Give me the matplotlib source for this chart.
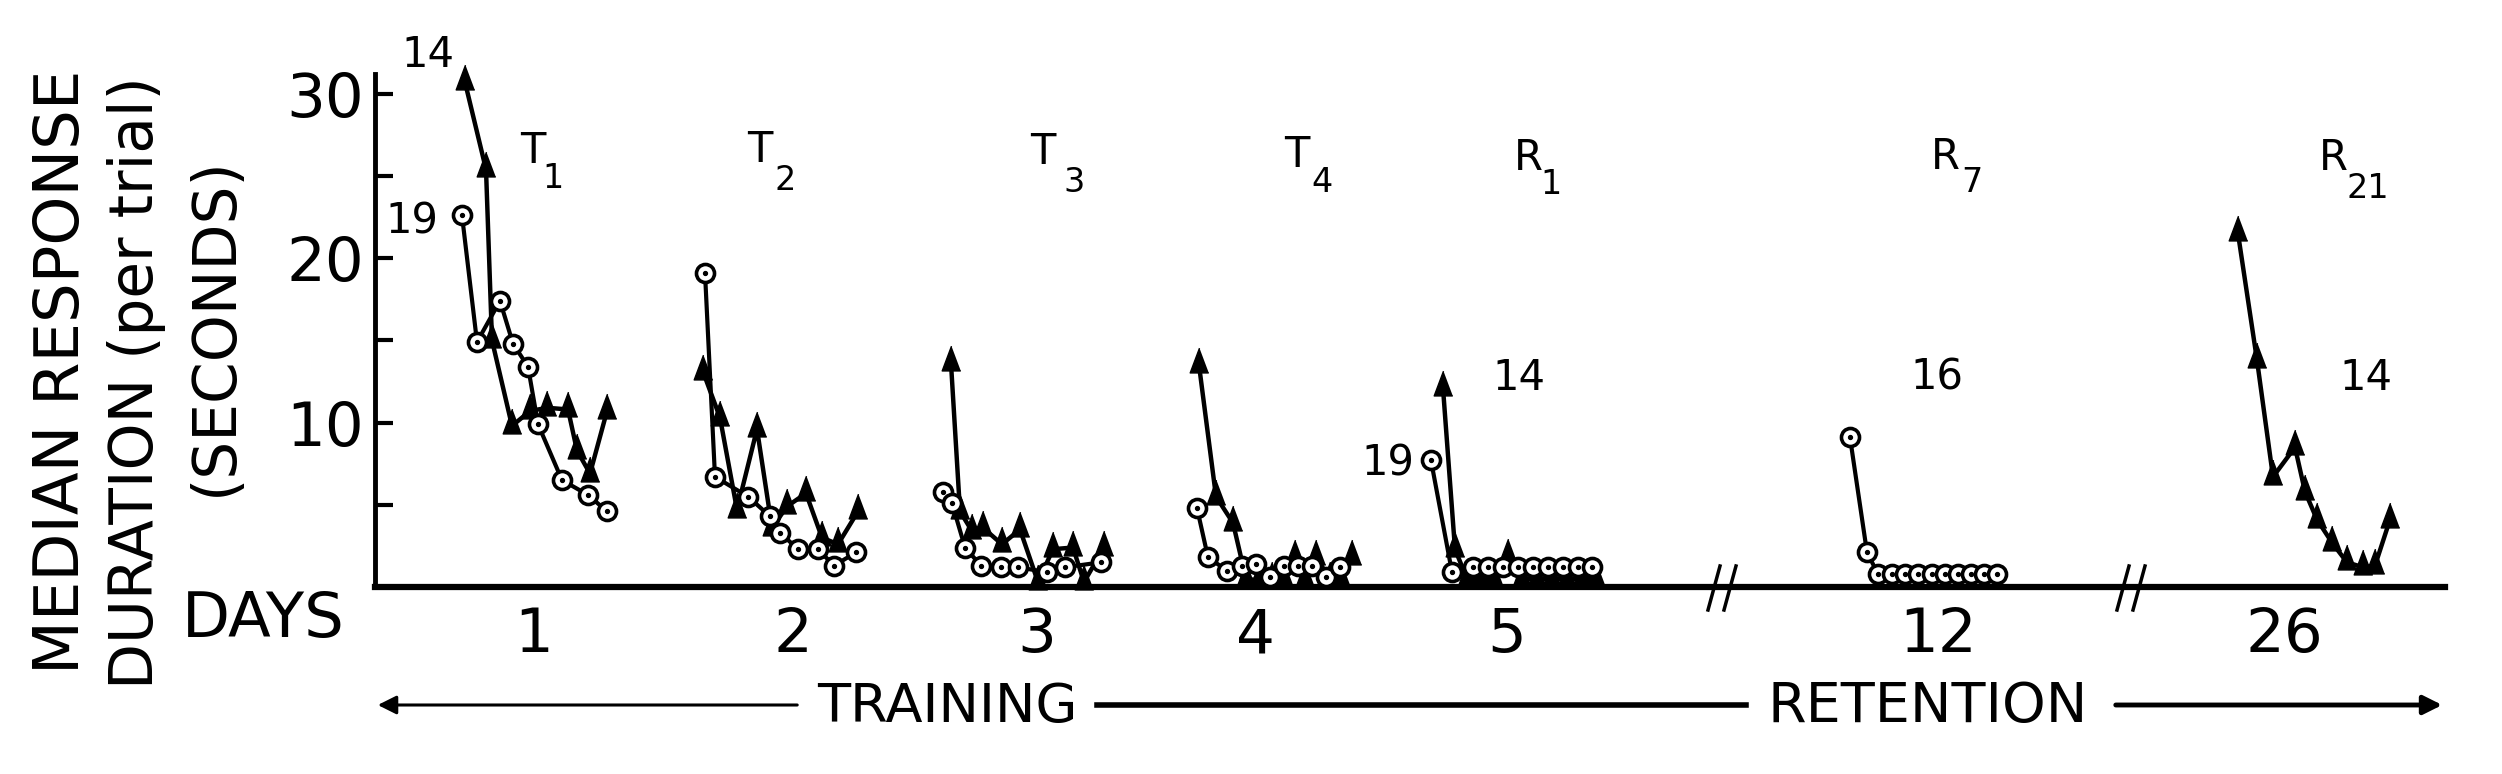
import matplotlib

matplotlib.use("Agg")
import matplotlib.pyplot as plt
from matplotlib.lines import Line2D

W, H = 2502, 774

DAYS = ["1", "2", "3", "4", "5", "12", "26"]
DAY_POS = [53.4, 79.3, 103.7, 125.5, 150.7, 193.8, 228.4]

BLOCK_LETTER = ["T", "T", "T", "T", "R", "R", "R"]
BLOCK_SUB = ["1", "2", "3", "4", "1", "7", "21"]

# triangle group, one list per block (x = position along the time axis)
TRI_X = [
    [46.5, 48.6, 49.2, 51.2, 53.0, 54.7, 56.8, 57.7, 59.0, 60.7],
    [70.3, 72.0, 73.7, 75.7, 77.2, 78.7, 80.6, 82.2, 83.8, 85.8],
    [95.1, 96.0, 97.2, 98.3, 100.2, 102.0, 103.8, 105.3, 107.3, 108.4, 110.4],
    [119.9, 121.6, 123.3, 124.6, 125.9, 127.2, 128.4, 129.5, 130.5, 131.6, 133.0, 134.1, 135.2],
    [144.3, 145.5, 146.7, 148.0, 149.4, 150.8, 152.2, 153.7, 155.2, 156.7, 158.2, 159.6],
    [],
    [223.8, 225.7, 227.3, 229.5, 230.5, 231.7, 233.2, 234.7, 236.3, 237.5, 239.0],
]
TRI_Y = [
    [30.7, 25.4, 15.0, 9.8, 10.7, 10.9, 10.8, 8.3, 6.9, 10.7],
    [13.1, 10.3, 4.7, 9.6, 3.6, 4.9, 5.7, 3.0, 2.6, 4.6],
    [13.6, 4.6, 3.4, 3.6, 2.6, 3.5, 0.3, 2.3, 2.4, 0.3, 2.4],
    [13.5, 5.5, 3.9, 0.5, 0.4, 0.5, 0.5, 1.8, 0.5, 1.8, 0.5, 0.5, 1.8],
    [12.1, 2.3, 0.5, 0.4, 0.5, 1.9, 0.5, 0.5, 0.5, 0.5, 0.5, 0.5],
    [],
    [21.5, 13.8, 6.7, 8.5, 5.8, 4.1, 2.7, 1.5, 1.2, 1.3, 4.1],
]

# circle group
CIRC_X = [
    [46.2, 47.7, 50.0, 51.3, 52.8, 53.8, 56.2, 58.8, 60.7],
    [70.5, 71.5, 74.8, 77.0, 78.0, 79.8, 81.8, 83.4, 85.6],
    [94.3, 95.2, 96.5, 98.1, 100.1, 101.8, 104.7, 106.5, 110.1],
    [119.7, 120.8, 122.7, 124.2, 125.6, 127.0, 128.4, 129.8, 131.2, 132.6, 134.0],
    [143.1, 145.2, 147.3, 148.8, 150.3, 151.8, 153.3, 154.8, 156.3, 157.8, 159.2],
    [185.0, 186.7, 187.8, 189.2, 190.5, 191.8, 193.2, 194.5, 195.8, 197.1, 198.4, 199.7],
    [],
]
CIRC_Y = [
    [22.6, 14.9, 17.4, 14.8, 13.4, 9.9, 6.5, 5.6, 4.6],
    [19.1, 6.7, 5.5, 4.3, 3.3, 2.3, 2.3, 1.3, 2.1],
    [5.8, 5.1, 2.4, 1.3, 1.2, 1.2, 0.9, 1.2, 1.5],
    [4.8, 1.8, 1.0, 1.3, 1.4, 0.6, 1.3, 1.3, 1.3, 0.6, 1.2],
    [7.7, 0.9, 1.2, 1.2, 1.2, 1.2, 1.2, 1.2, 1.2, 1.2, 1.2],
    [9.1, 2.1, 0.8, 0.8, 0.8, 0.8, 0.8, 0.8, 0.8, 0.8, 0.8, 0.8],
    [],
]

# group sizes written next to the curves
N_TEXT = ["14", "19", "14", "19", "16", "14"]


def fx(px):
    return px / W


def fy(py):
    return 1 - py / H


fig = plt.figure(figsize=(W / 100, H / 100), dpi=100)
ax = fig.add_axes([fx(375), fy(587), fx(2445) - fx(375), fy(74) - fy(587)])
ax.set_xlim(37.5, 244.5)
ax.set_ylim(0, 31.2)

tri = [(0, 1.4), (-0.75, -0.6), (0.75, -0.6)]
for xs, ys in zip(TRI_X, TRI_Y):
    if xs:
        ax.plot(xs, ys, color="black", lw=3.2, marker=tri, ms=25, mfc="black",
                mec="black", clip_on=False, zorder=3)
for xs, ys in zip(CIRC_X, CIRC_Y):
    if xs:
        ax.plot(xs, ys, color="black", lw=3.0, marker="o", ms=13, mfc="white",
                mec="black", mew=2.6, clip_on=False, zorder=4)
        ax.plot(xs, ys, ls="none", marker="o", ms=2.8, color="black",
                clip_on=False, zorder=5)

for s in ("top", "right"):
    ax.spines[s].set_visible(False)
ax.spines["left"].set_linewidth(3.5)
ax.spines["bottom"].set_linewidth(4.5)

ax.set_yticks([5, 10, 15, 20, 25, 30], ["", "10", "", "20", "", "30"])
ax.tick_params(axis="y", direction="in", length=13, width=3, labelsize=44, pad=8)
ax.set_xticks(DAY_POS, DAYS)
ax.tick_params(axis="x", length=0, labelsize=44, pad=14)

# axis break marks
for bx in (1722, 2131):
    for off in (-8, 8):
        fig.add_artist(Line2D([fx(bx + off - 6), fx(bx + off + 6)], [fy(610), fy(566)],
                              color="black", lw=2.5))

# y label (three stacked lines)
fig.text(fx(62), fy(372), "MEDIAN RESPONSE", rotation=90, ha="center", va="center", fontsize=45)
fig.text(fx(137), fy(383), "DURATION (per trial)", rotation=90, ha="center", va="center", fontsize=43)
fig.text(fx(215), fy(326), "(SECONDS)", rotation=90, ha="center", va="center", fontsize=43)
fig.text(fx(263), fy(620), "DAYS", ha="center", va="center", fontsize=45)

# block labels with subscripts
main_pos = [(533, 151), (760, 150), (1043, 152), (1297, 155), (1528, 158), (1945, 157), (2333, 158)]
sub_pos = [(553, 179), (785, 181), (1074, 183), (1322, 183), (1551, 184), (1972, 183), (2368, 188)]
for letter, sub, (mx, my), (sx, sy) in zip(BLOCK_LETTER, BLOCK_SUB, main_pos, sub_pos):
    fig.text(fx(mx), fy(my), letter, ha="center", va="center", fontsize=30)
    fig.text(fx(sx), fy(sy), sub, ha="center", va="center", fontsize=24)

n_pos = [(428, 55), (412, 222), (1519, 378), (1388, 463), (1937, 378), (2366, 378)]
for t, (px, py) in zip(N_TEXT, n_pos):
    fig.text(fx(px), fy(py), t, ha="center", va="center", fontsize=30)

# training / retention arrow
fig.text(fx(947), fy(707), "TRAINING", ha="center", va="center", fontsize=39)
fig.text(fx(1928), fy(707), "RETENTION", ha="center", va="center", fontsize=40)
ax.annotate("", xy=(fx(375), fy(705)), xytext=(fx(800), fy(705)), xycoords="figure fraction",
            arrowprops=dict(arrowstyle="-|>", lw=2.2, color="black", mutation_scale=28))
fig.add_artist(Line2D([fx(1097), fx(1746)], [fy(705), fy(705)], color="black", lw=4))
ax.annotate("", xy=(fx(2445), fy(705)), xytext=(fx(2113), fy(705)), xycoords="figure fraction",
            arrowprops=dict(arrowstyle="-|>", lw=3.5, color="black", mutation_scale=28))

fig.savefig("out.png", dpi=100)
